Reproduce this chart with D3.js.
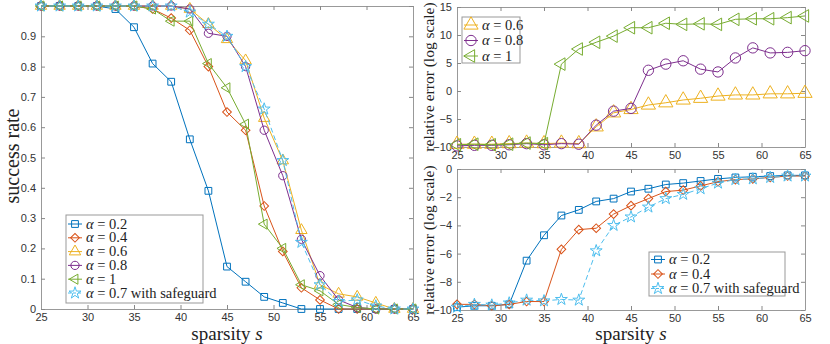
<!DOCTYPE html>
<html>
<head>
<meta charset="utf-8">
<script src="https://cdn.jsdelivr.net/npm/d3@7"></script>
<style>
  body { margin: 0; background: #fff; }
  svg { display: block; }
  .tick text { font-family: "Liberation Sans", Arial, sans-serif; font-size: 11px; fill: #333; }
  .domain { stroke: #999; }
  .tick line { stroke: #888; }
</style>
</head>
<body>
<svg width="830" height="344"></svg>
<script>
// sparsity s
const sparsity = [25, 27, 29, 31, 33, 35, 37, 39, 41, 43, 45, 47, 49, 51, 53, 55, 57, 59, 61, 63, 65];

// success rate (left)
const successA02  = [1, 1, 1, 1, 0.99, 0.93, 0.81, 0.75, 0.56, 0.39, 0.14, 0.09, 0.04, 0.02, 0, 0, 0, 0, 0, 0, 0];
const successA04  = [1, 1, 1, 1, 1, 1, 0.99, 0.96, 0.92, 0.80, 0.65, 0.59, 0.34, 0.19, 0.07, 0.03, 0, 0, 0, 0, 0];
const successA06  = [1, 1, 1, 1, 1, 1, 1, 1, 0.99, 0.94, 0.89, 0.82, 0.63, 0.49, 0.26, 0.08, 0.05, 0.04, 0.02, 0, 0];
const successA08  = [1, 1, 1, 1, 1, 1, 1, 1, 0.99, 0.91, 0.90, 0.80, 0.59, 0.44, 0.23, 0.11, 0.03, 0.005, 0, 0, 0];
const successA1   = [1, 1, 1, 1, 1, 1, 0.99, 0.95, 0.95, 0.81, 0.73, 0.61, 0.28, 0.20, 0.08, 0.06, 0.015, 0.005, 0, 0, 0];
const successSafe = [1, 1, 1, 1, 1, 1, 1, 1, 0.98, 0.94, 0.90, 0.80, 0.66, 0.49, 0.22, 0.08, 0.025, 0.03, 0.01, 0, 0];

// relative error, log scale (top right)
const errTopA06 = [-9.5, -9.5, -9.5, -9.4, -9.3, -9.4, -9.3, -9.4, -6.4, -3.9, -3.3, -2.5, -2.1, -1.6, -1.3, -0.9, -0.7, -0.7, -0.5, -0.5, -0.4];
const errTopA08 = [-9.8, -9.7, -9.7, -9.6, -9.4, -9.6, -9.4, -9.5, -6.1, -3.6, -3.1, 3.7, 4.8, 5.4, 3.9, 3.4, 5.9, 7.7, 6.8, 6.9, 7.2];
const errTopA1  = [-9.6, -9.5, -9.6, -9.5, -9.3, -9.4, 4.8, 7.5, 8.7, 9.8, 11.3, 11.3, 12.1, 11.9, 12.0, 11.9, 12.8, 12.9, 12.9, 13.1, 13.4];

// relative error, log scale (bottom right)
const errBotA02  = [-9.8, -9.7, -9.7, -9.6, -6.5, -4.7, -3.3, -2.9, -2.3, -2.1, -1.6, -1.4, -1.1, -1.0, -0.85, -0.7, -0.6, -0.55, -0.5, -0.45, -0.45];
const errBotA04  = [-9.6, -9.6, -9.7, -9.6, -9.4, -9.4, -5.7, -4.3, -4.2, -3.2, -2.6, -2.1, -1.6, -1.5, -1.2, -0.9, -0.75, -0.7, -0.6, -0.5, -0.5];
const errBotSafe = [-9.8, -9.6, -9.65, -9.5, -9.3, -9.35, -9.25, -9.3, -5.8, -4.0, -3.4, -2.7, -2.1, -1.8, -1.4, -1.0, -0.75, -0.7, -0.6, -0.5, -0.5];

const xTicks = [25, 30, 35, 40, 45, 50, 55, 60, 65];
const successTicks = [0, 0.1, 0.2, 0.3, 0.4, 0.5, 0.6, 0.7, 0.8, 0.9, 1];
const errTopTicks = [-10, -5, 0, 5, 10, 15];
const errBotTicks = [-10, -8, -6, -4, -2, 0];

const SERIF = "'Liberation Serif', 'Times New Roman', serif";

// 시리즈 스타일
const styles = {
  a02:  { alpha: "0.2", color: "#0072BD", marker: "square" },
  a04:  { alpha: "0.4", color: "#D95319", marker: "diamond" },
  a06:  { alpha: "0.6", color: "#EDB120", marker: "triUp" },
  a08:  { alpha: "0.8", color: "#7E2F8E", marker: "circle" },
  a1:   { alpha: "1",   color: "#77AC30", marker: "triLeft" },
  safe: { alpha: "0.7", color: "#4DBEEE", marker: "star", dash: "5,3", extra: " with safeguard" }
};

const svg = d3.select("svg");

function markerPath(kind, s) {
  if (kind === "square") return d3.symbol(d3.symbolSquare, 46 * s * s)();
  if (kind === "diamond") return d3.symbol(d3.symbolSquare, 38 * s * s)();
  if (kind === "triUp") return d3.symbol(d3.symbolTriangle, 56 * s * s)();
  if (kind === "triLeft") return d3.symbol(d3.symbolTriangle, 44 * s * s)();
  if (kind === "circle") return d3.symbol(d3.symbolCircle, 54 * s * s)();
  return d3.symbol(d3.symbolStar, 44 * s * s)();
}
function markerRotate(kind) {
  if (kind === "diamond") return 45;
  if (kind === "triLeft") return -90;
  return 0;
}

function drawPanel(cfg) {
  const x = d3.scaleLinear().domain([25, 65]).range([cfg.left, cfg.right]);
  const y = d3.scaleLinear().domain(cfg.yDomain).range([cfg.bottom, cfg.top]);
  const g = svg.append("g");

  // 축 - 눈금은 안쪽으로
  g.append("g").attr("transform", `translate(0,${cfg.bottom})`)
    .call(d3.axisBottom(x).tickValues(xTicks).tickSizeInner(-4).tickSizeOuter(0).tickPadding(4));
  g.append("g").attr("transform", `translate(0,${cfg.top})`)
    .call(d3.axisTop(x).tickValues(xTicks).tickSizeInner(-4).tickSizeOuter(0).tickFormat(""));
  g.append("g").attr("transform", `translate(${cfg.left},0)`)
    .call(d3.axisLeft(y).tickValues(cfg.yTicks).tickSizeInner(-4).tickSizeOuter(0).tickPadding(5)
      .tickFormat(d => cfg.hideTop && d === cfg.yDomain[1] ? "" : d3.format("")(d)));
  g.append("g").attr("transform", `translate(${cfg.right},0)`)
    .call(d3.axisRight(y).tickValues(cfg.yTicks).tickSizeInner(-4).tickSizeOuter(0).tickFormat(""));

  const line = d3.line().x((d, i) => x(sparsity[i])).y(d => y(d));

  cfg.series.forEach(sr => {
    const st = styles[sr.key];
    g.append("path")
      .attr("d", line(sr.values))
      .attr("fill", "none")
      .attr("stroke", st.color)
      .attr("stroke-width", 1)
      .attr("stroke-dasharray", st.dash || null);
    g.selectAll(null)
      .data(sr.values)
      .enter()
      .append("path")
      .attr("d", markerPath(st.marker, cfg.ms))
      .attr("transform", (d, i) => `translate(${x(sparsity[i])},${y(d)}) rotate(${markerRotate(st.marker)})`)
      .attr("fill", "none")
      .attr("stroke", st.color)
      .attr("stroke-width", 1);
  });

  // 범례
  const lg = cfg.legend;
  g.append("rect")
    .attr("x", lg.x).attr("y", lg.y).attr("width", lg.w).attr("height", lg.h)
    .attr("fill", "#fff").attr("stroke", "#999");
  lg.keys.forEach((k, i) => {
    const st = styles[k];
    const cy = lg.y + lg.first + i * lg.step;
    g.append("line")
      .attr("x1", lg.x + 2).attr("x2", lg.x + 16).attr("y1", cy).attr("y2", cy)
      .attr("stroke", st.color).attr("stroke-dasharray", st.dash ? "3,2" : null);
    g.append("path")
      .attr("d", markerPath(st.marker, cfg.ms))
      .attr("transform", `translate(${lg.x + 9},${cy}) rotate(${markerRotate(st.marker)})`)
      .attr("fill", "none").attr("stroke", st.color);
    const t = g.append("text")
      .style("font-family", SERIF).style("font-size", "14.5px").attr("fill", "#222")
      .attr("x", lg.x + 20).attr("y", cy + 4.5);
    t.append("tspan").attr("font-style", "italic").text("\u03B1");
    t.append("tspan").text(" = " + st.alpha + (st.extra || ""));
  });
}

// 왼쪽: 성공률
drawPanel({
  left: 41, right: 413, top: 6, bottom: 309,
  yDomain: [0, 1], yTicks: successTicks, hideTop: true, ms: 1,
  series: [
    { key: "a02", values: successA02 },
    { key: "a04", values: successA04 },
    { key: "a06", values: successA06 },
    { key: "a08", values: successA08 },
    { key: "a1", values: successA1 },
    { key: "safe", values: successSafe }
  ],
  legend: { x: 66, y: 215, w: 137, h: 88, first: 9, step: 13.8, keys: ["a02", "a04", "a06", "a08", "a1", "safe"] }
});

// 오른쪽 위
drawPanel({
  left: 457, right: 805, top: 7, bottom: 147,
  yDomain: [-10, 15], yTicks: errTopTicks, ms: 1.25,
  series: [
    { key: "a06", values: errTopA06 },
    { key: "a08", values: errTopA08 },
    { key: "a1", values: errTopA1 }
  ],
  legend: { x: 462, y: 17, w: 58, h: 46, first: 8, step: 15.5, keys: ["a06", "a08", "a1"] }
});

// 오른쪽 아래
drawPanel({
  left: 457, right: 805, top: 169, bottom: 310,
  yDomain: [-10, 0], yTicks: errBotTicks, ms: 1,
  series: [
    { key: "a02", values: errBotA02 },
    { key: "a04", values: errBotA04 },
    { key: "safe", values: errBotSafe }
  ],
  legend: { x: 649, y: 252, w: 136, h: 44, first: 7.5, step: 14.5, keys: ["a02", "a04", "safe"] }
});

// 축 제목
function sparsityLabel(cx) {
  const t = svg.append("text").attr("x", cx).attr("y", 340)
    .style("font-family", SERIF).style("font-size", "19px").attr("fill", "#222")
    .attr("text-anchor", "middle");
  t.append("tspan").text("sparsity ");
  t.append("tspan").attr("font-style", "italic").text("s");
}
sparsityLabel(227);
sparsityLabel(631);

svg.append("text")
  .style("font-family", SERIF).style("font-size", "20px").attr("fill", "#222")
  .attr("transform", "translate(19,156) rotate(-90)")
  .attr("text-anchor", "middle")
  .text("success rate");

[77, 240].forEach(cy => {
  svg.append("text")
    .style("font-family", SERIF).style("font-size", "15.5px").attr("fill", "#222")
    .attr("transform", `translate(434,${cy}) rotate(-90)`)
    .attr("text-anchor", "middle")
    .text("relative error (log scale)");
});
</script>
</body>
</html>
